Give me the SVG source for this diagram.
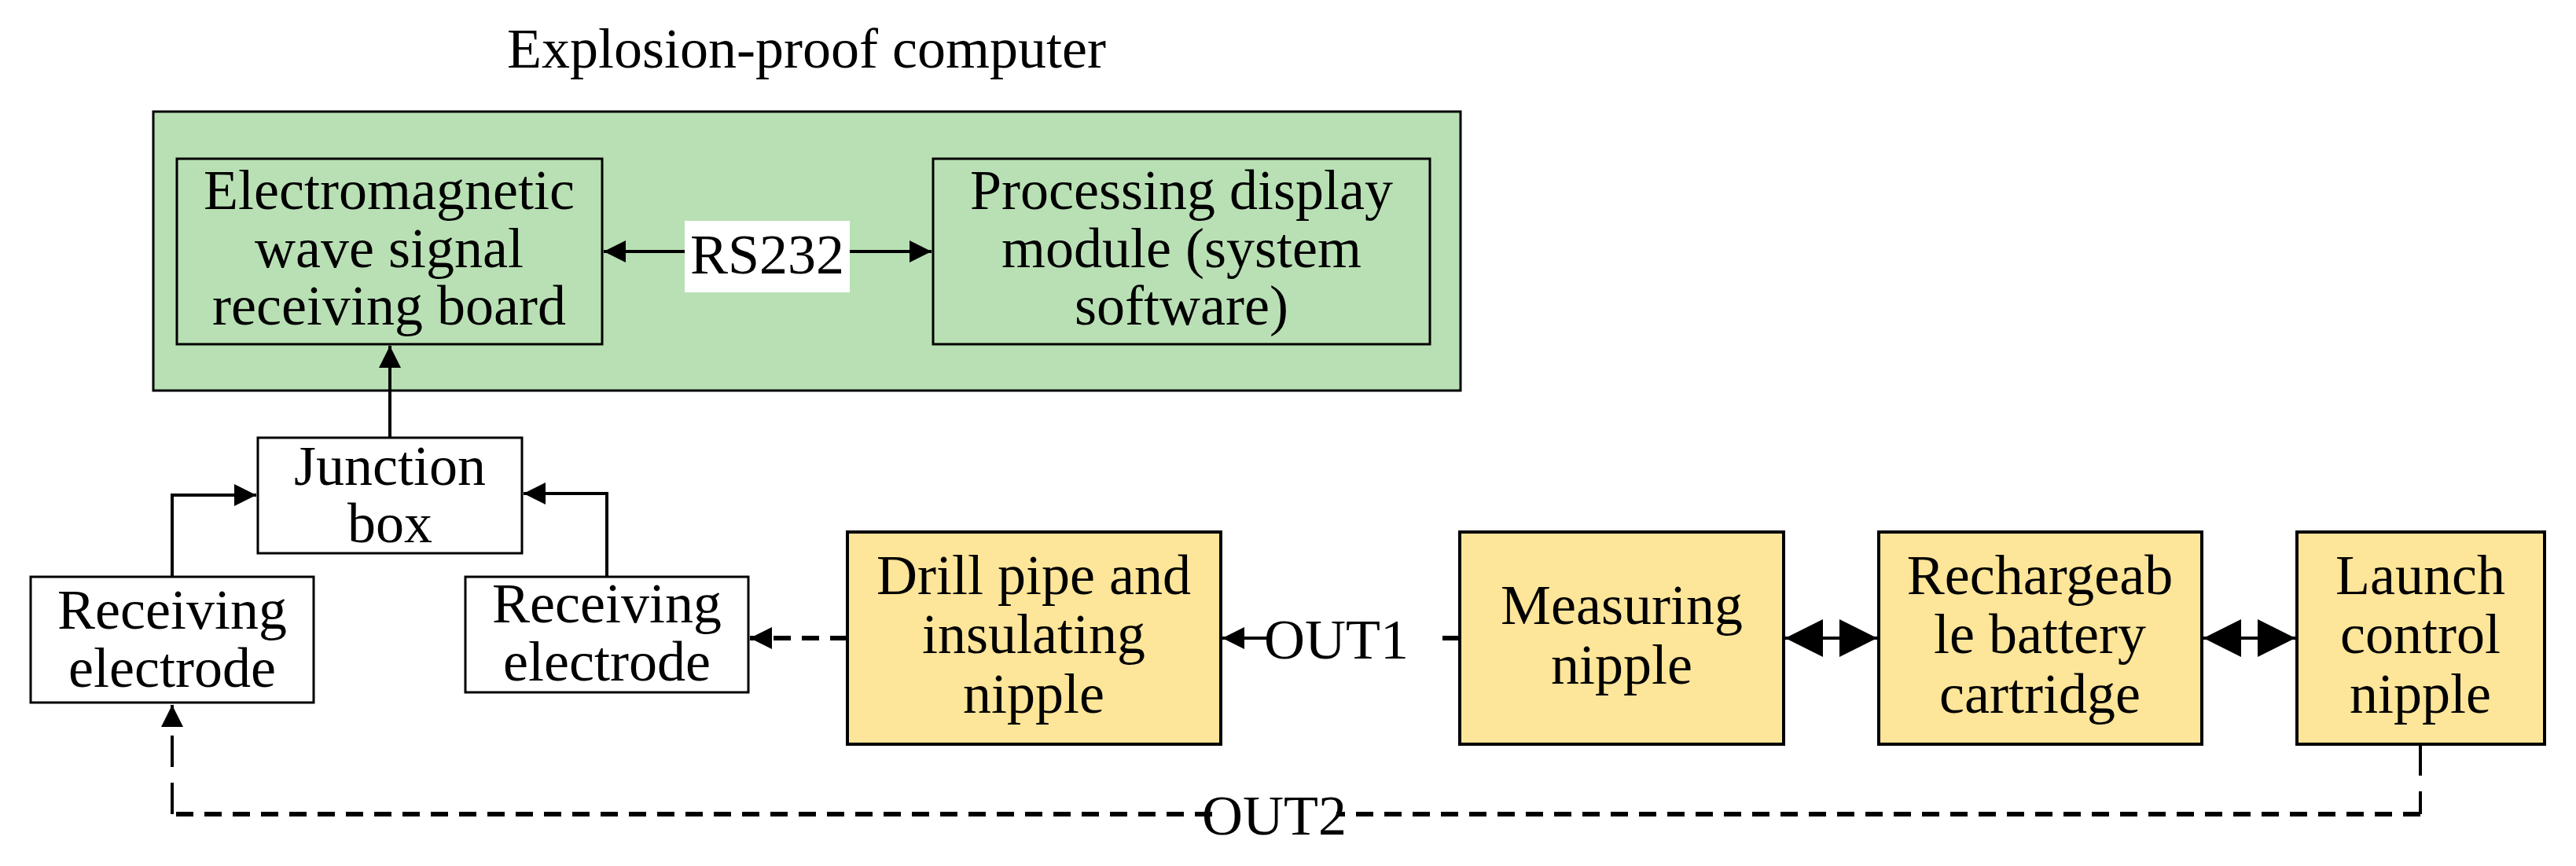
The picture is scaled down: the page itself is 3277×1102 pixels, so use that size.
<svg xmlns="http://www.w3.org/2000/svg" width="3277" height="1102" viewBox="0 0 3277 1102">
<style>
text{font-family:"Liberation Serif","Times New Roman",serif;font-size:72px;fill:#000;text-anchor:middle}
.g{fill:#b9e0b4;stroke:#000;stroke-width:3}
.y{fill:#fde599;stroke:#000;stroke-width:4}
.w{fill:#fff;stroke:#000;stroke-width:3}
.c{fill:none;stroke:#000;stroke-width:4}
.d{fill:none;stroke:#000;stroke-width:6;stroke-dasharray:22 14}
</style>
<defs>
<marker id="a" viewBox="0 0 10 10" refX="10" refY="5" markerWidth="28" markerHeight="28" orient="auto-start-reverse" markerUnits="userSpaceOnUse"><path d="M0,0L10,5L0,10z" fill="#000"/></marker>
<marker id="b" viewBox="0 0 10 10" refX="10" refY="5" markerWidth="48" markerHeight="48" orient="auto-start-reverse" markerUnits="userSpaceOnUse"><path d="M0,0L10,5L0,10z" fill="#000"/></marker>
</defs>
<text x="1026" y="86">Explosion-proof computer</text>
<g id="computer"><rect class="g" x="195" y="142" width="1663" height="355"/></g>
<g id="emboard"><rect class="g" x="225" y="202" width="541" height="236"/>
<text x="495" y="266">Electromagnetic</text><text x="495" y="340">wave signal</text><text x="495" y="413">receiving board</text></g>
<g id="proc"><rect class="g" x="1187" y="202" width="632" height="236"/>
<text x="1503" y="266">Processing display</text><text x="1503" y="340">module (system</text><text x="1503" y="413">software)</text></g>
<g id="junction"><rect class="w" x="328" y="557" width="336" height="147"/><text x="496" y="617">Junction</text><text x="496" y="690">box</text></g>
<g id="rel"><rect class="w" x="39" y="734" width="360" height="160"/><text x="219" y="800">Receiving</text><text x="219" y="874">electrode</text></g>
<g id="rer"><rect class="w" x="592" y="734" width="360" height="147"/><text x="772" y="792">Receiving</text><text x="772" y="866">electrode</text></g>
<g id="drill"><rect class="y" x="1078" y="677" width="475" height="270"/><text x="1315" y="756">Drill pipe and</text><text x="1315" y="831">insulating</text><text x="1315" y="907">nipple</text></g>
<g id="meas"><rect class="y" x="1857" y="677" width="412" height="270"/><text x="2063" y="794">Measuring</text><text x="2063" y="870">nipple</text></g>
<g id="batt"><rect class="y" x="2390" y="677" width="411" height="270"/><text x="2595" y="756">Rechargeab</text><text x="2595" y="831">le battery</text><text x="2595" y="907">cartridge</text></g>
<g id="launch"><rect class="y" x="2922" y="677" width="315" height="270"/><text x="3079" y="756">Launch</text><text x="3079" y="831">control</text><text x="3079" y="907">nipple</text></g>
<g id="connectors">
<rect x="871" y="281" width="210" height="91" fill="#fff"/>
<text x="976" y="348">RS232</text>
<path class="c" d="M871,320H768" marker-end="url(#a)"/>
<path class="c" d="M1081,320H1185" marker-end="url(#a)"/>
<path class="c" d="M496,557V440" marker-end="url(#a)"/>
<path class="c" d="M219,734V630H326" marker-end="url(#a)"/>
<path class="c" d="M772,734V628H666" marker-end="url(#a)"/>
<path class="d" d="M1078,812H954" marker-end="url(#a)"/>
<path class="d" d="M1857,812H1830"/>
<text x="1700" y="838">OUT1</text>
<path class="c" d="M1612,812H1555" marker-end="url(#a)"/>
<path class="c" stroke-width="8" d="M2271,812H2388" marker-start="url(#b)" marker-end="url(#b)"/>
<path class="c" stroke-width="8" d="M2803,812H2920" marker-start="url(#b)" marker-end="url(#b)"/>
<path class="c" stroke-width="3" stroke-dasharray="40 20" d="M3079,947V1036"/>
<path class="d" d="M3079,1036H1700M1542,1036H219"/>
<path class="c" stroke-width="3" stroke-dasharray="40 20" d="M219,1036V897" marker-end="url(#a)"/>
<text x="1621" y="1062">OUT2</text>
</g>
</svg>
